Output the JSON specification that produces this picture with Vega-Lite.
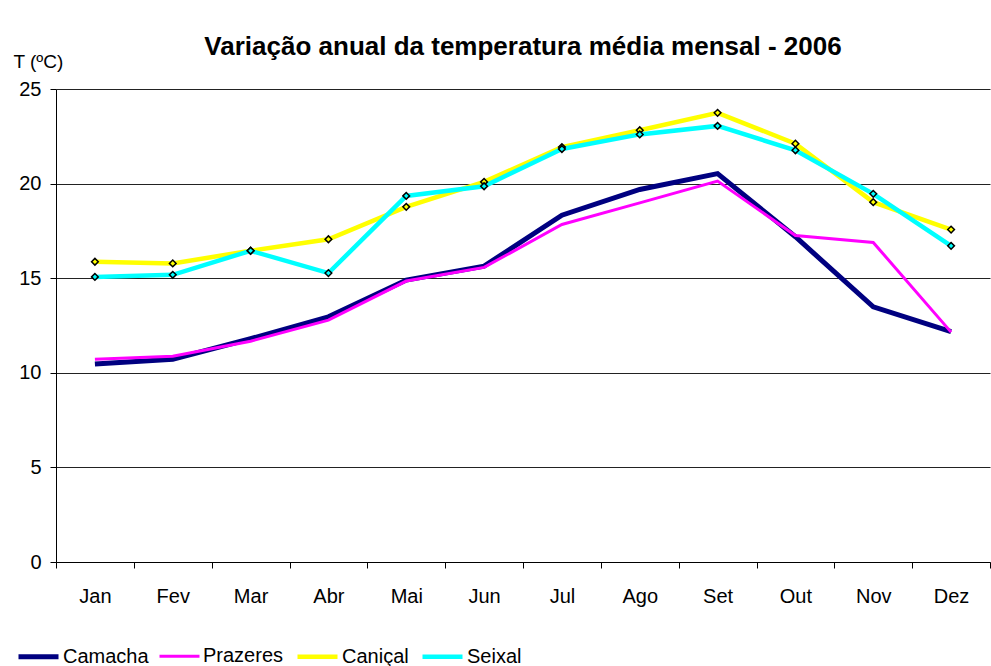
{
  "$schema": "https://vega.github.io/schema/vega-lite/v6.json",
  "width": 934,
  "height": 473,
  "padding": {"left": 56, "top": 89, "right": 1, "bottom": 104},
  "autosize": {"type": "none"},
  "background": "white",
  "config": {
    "font": "Liberation Sans",
    "view": {"stroke": null}
  },
  "title": {
    "text": "Variação anual da temperatura média mensal - 2006",
    "fontSize": 26,
    "fontWeight": "bold",
    "font": "Liberation Sans",
    "color": "black",
    "anchor": "middle",
    "offset": -8
  },
  "data": {
    "values": [
      {"mes": "Jan", "estacao": "Camacha", "t": 10.46},
      {"mes": "Fev", "estacao": "Camacha", "t": 10.72},
      {"mes": "Mar", "estacao": "Camacha", "t": 11.8},
      {"mes": "Abr", "estacao": "Camacha", "t": 12.96},
      {"mes": "Mai", "estacao": "Camacha", "t": 14.9},
      {"mes": "Jun", "estacao": "Camacha", "t": 15.64},
      {"mes": "Jul", "estacao": "Camacha", "t": 18.33},
      {"mes": "Ago", "estacao": "Camacha", "t": 19.69},
      {"mes": "Set", "estacao": "Camacha", "t": 20.53},
      {"mes": "Out", "estacao": "Camacha", "t": 17.19},
      {"mes": "Nov", "estacao": "Camacha", "t": 13.49},
      {"mes": "Dez", "estacao": "Camacha", "t": 12.17},
      {"mes": "Jan", "estacao": "Prazeres", "t": 10.71},
      {"mes": "Fev", "estacao": "Prazeres", "t": 10.88},
      {"mes": "Mar", "estacao": "Prazeres", "t": 11.67},
      {"mes": "Abr", "estacao": "Prazeres", "t": 12.78},
      {"mes": "Mai", "estacao": "Prazeres", "t": 14.85},
      {"mes": "Jun", "estacao": "Prazeres", "t": 15.57},
      {"mes": "Jul", "estacao": "Prazeres", "t": 17.84},
      {"mes": "Ago", "estacao": "Prazeres", "t": 18.98},
      {"mes": "Set", "estacao": "Prazeres", "t": 20.13},
      {"mes": "Out", "estacao": "Prazeres", "t": 17.26},
      {"mes": "Nov", "estacao": "Prazeres", "t": 16.89},
      {"mes": "Dez", "estacao": "Prazeres", "t": 12.15},
      {"mes": "Jan", "estacao": "Caniçal", "t": 15.87},
      {"mes": "Fev", "estacao": "Caniçal", "t": 15.78},
      {"mes": "Mar", "estacao": "Caniçal", "t": 16.45},
      {"mes": "Abr", "estacao": "Caniçal", "t": 17.06},
      {"mes": "Mai", "estacao": "Caniçal", "t": 18.77},
      {"mes": "Jun", "estacao": "Caniçal", "t": 20.09},
      {"mes": "Jul", "estacao": "Caniçal", "t": 21.93},
      {"mes": "Ago", "estacao": "Caniçal", "t": 22.82},
      {"mes": "Set", "estacao": "Caniçal", "t": 23.74},
      {"mes": "Out", "estacao": "Caniçal", "t": 22.11},
      {"mes": "Nov", "estacao": "Caniçal", "t": 19.02},
      {"mes": "Dez", "estacao": "Caniçal", "t": 17.57},
      {"mes": "Jan", "estacao": "Seixal", "t": 15.07},
      {"mes": "Fev", "estacao": "Seixal", "t": 15.18},
      {"mes": "Mar", "estacao": "Seixal", "t": 16.45},
      {"mes": "Abr", "estacao": "Seixal", "t": 15.27},
      {"mes": "Mai", "estacao": "Seixal", "t": 19.35},
      {"mes": "Jun", "estacao": "Seixal", "t": 19.86},
      {"mes": "Jul", "estacao": "Seixal", "t": 21.83},
      {"mes": "Ago", "estacao": "Seixal", "t": 22.6},
      {"mes": "Set", "estacao": "Seixal", "t": 23.05},
      {"mes": "Out", "estacao": "Seixal", "t": 21.76},
      {"mes": "Nov", "estacao": "Seixal", "t": 19.46},
      {"mes": "Dez", "estacao": "Seixal", "t": 16.71}
    ]
  },
  "encoding": {
    "x": {
      "field": "mes",
      "type": "nominal",
      "sort": ["Jan", "Fev", "Mar", "Abr", "Mai", "Jun", "Jul", "Ago", "Set", "Out", "Nov", "Dez"],
      "scale": {"type": "band", "paddingInner": 0, "paddingOuter": 0},
      "axis": {
        "title": null,
        "labelAngle": 0,
        "labelFontSize": 20,
        "labelColor": "black",
        "labelPadding": 18,
        "tickBand": "extent",
        "tickSize": 6,
        "tickColor": "black",
        "domainColor": "black",
        "grid": false
      }
    },
    "y": {
      "field": "t",
      "type": "quantitative",
      "scale": {"domain": [0, 25]},
      "axis": {
        "values": [0, 5, 10, 15, 20, 25],
        "title": "T (ºC)",
        "titleAngle": 0,
        "titleAlign": "left",
        "titleBaseline": "alphabetic",
        "titleX": -43,
        "titleY": -22,
        "titleFontSize": 19,
        "titleFontWeight": "normal",
        "titleColor": "black",
        "labelFontSize": 20,
        "labelColor": "black",
        "labelPadding": 9,
        "tickSize": 6,
        "tickColor": "black",
        "domainColor": "black",
        "grid": true,
        "gridColor": "#222222",
        "gridOpacity": 1
      }
    }
  },
  "layer": [
    {
      "mark": {"type": "line", "strokeJoin": "miter"},
      "encoding": {
        "color": {
          "field": "estacao",
          "type": "nominal",
          "sort": ["Camacha", "Prazeres", "Caniçal", "Seixal"],
          "scale": {
            "domain": ["Camacha", "Prazeres", "Caniçal", "Seixal"],
            "range": ["#000080", "#FF00FF", "#FFFF00", "#00FFFF"]
          },
          "legend": {
            "title": null,
            "orient": "none",
            "direction": "horizontal",
            "legendX": -40,
            "legendY": 545,
            "symbolType": "stroke",
            "symbolSize": 1600,
            "symbolStrokeWidth": 4,
            "labelFontSize": 20,
            "labelColor": "black",
            "labelOffset": 2,
            "columnPadding": 4
          }
        },
        "strokeWidth": {
          "field": "estacao",
          "type": "nominal",
          "scale": {
            "type": "ordinal",
            "domain": ["Camacha", "Prazeres", "Caniçal", "Seixal"],
            "range": [5, 3, 4.5, 4.5]
          },
          "legend": null
        }
      }
    },
    {
      "transform": [{"filter": "datum.estacao === 'Caniçal' || datum.estacao === 'Seixal'"}],
      "mark": {"type": "point", "shape": "diamond", "filled": true, "stroke": "black", "strokeWidth": 1.5, "size": 45, "opacity": 1},
      "encoding": {
        "fill": {
          "field": "estacao",
          "type": "nominal",
          "scale": {
            "domain": ["Camacha", "Prazeres", "Caniçal", "Seixal"],
            "range": ["#000080", "#FF00FF", "#FFFF00", "#00FFFF"]
          },
          "legend": null
        }
      }
    }
  ]
}
